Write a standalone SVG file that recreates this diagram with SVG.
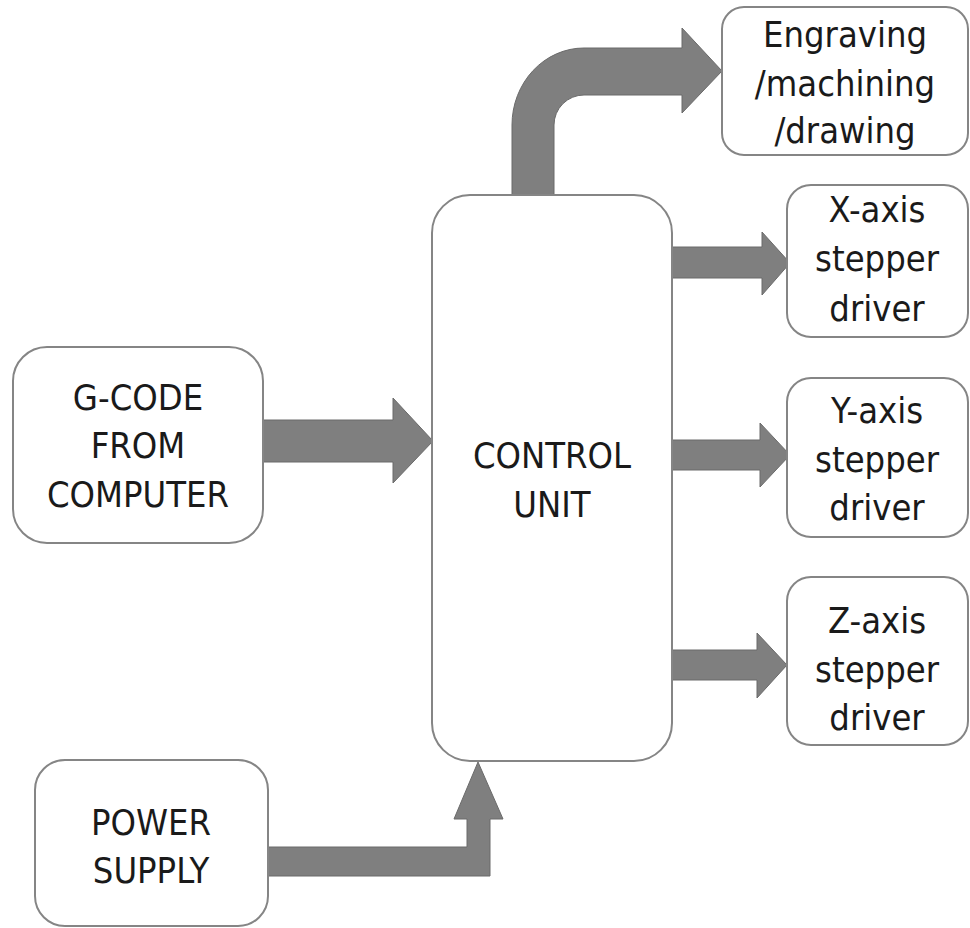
<svg xmlns="http://www.w3.org/2000/svg" width="970" height="928" viewBox="0 0 970 928">
  <style>
    .box { fill: #ffffff; stroke: #858585; stroke-width: 2; }
    .arrow { fill: #7f7f7f; stroke: #6a6a6a; stroke-width: 1; stroke-linejoin: miter; }
    text { font-family: "DejaVu Sans Condensed", "DejaVu Sans", sans-serif; font-stretch: condensed; font-size: 36px; fill: #1a1a1a; text-anchor: middle; }
  </style>
  <rect width="970" height="928" fill="#ffffff"/>

  <!-- connectors: wide block arrows -->
  <g id="connectors">
    <!-- control unit up and over to the engraving output -->
    <path class="arrow" d="M512,195 L512,125 A72,77 0 0 1 584,48 L682,48 L682,28 L722,71 L682,113 L682,95 L584,95 A30,30 0 0 0 554,125 L554,195 Z"/>
    <!-- G-code into control unit -->
    <polygon class="arrow" points="263,420 393,420 393,398 433,441 393,483 393,462 263,462"/>
    <!-- control unit to X driver -->
    <polygon class="arrow" points="672,247 762,247 762,232 790,263 762,295 762,278 672,278"/>
    <!-- control unit to Y driver -->
    <polygon class="arrow" points="672,440 760,440 760,423 790,455 760,487 760,470 672,470"/>
    <!-- control unit to Z driver -->
    <polygon class="arrow" points="670,650 757,650 757,633 787,665 757,698 757,680 670,680"/>
    <!-- power supply up into control unit -->
    <polygon class="arrow" points="268,847 467,847 467,819 454,819 478,762 503,819 490,819 490,876 268,876"/>
  </g>

  <g id="engraving">
    <rect class="box" x="722" y="7" width="246" height="148" rx="22"/>
    <text x="845" y="47">Engraving</text>
    <text x="845" y="96">/machining</text>
    <text x="845" y="143">/drawing</text>
  </g>

  <g id="control-unit">
    <rect class="box" x="432" y="195" width="240" height="566" rx="38"/>
    <text x="552" y="468">CONTROL</text>
    <text x="552" y="517">UNIT</text>
  </g>

  <g id="gcode">
    <rect class="box" x="13" y="347" width="250" height="196" rx="34"/>
    <text x="138" y="410">G-CODE</text>
    <text x="138" y="458">FROM</text>
    <text x="138" y="507">COMPUTER</text>
  </g>

  <g id="x-driver">
    <rect class="box" x="787" y="185" width="181" height="152" rx="24"/>
    <text x="877" y="222">X-axis</text>
    <text x="877" y="271">stepper</text>
    <text x="877" y="321">driver</text>
  </g>

  <g id="y-driver">
    <rect class="box" x="787" y="378" width="181" height="159" rx="24"/>
    <text x="877" y="423">Y-axis</text>
    <text x="877" y="472">stepper</text>
    <text x="877" y="520">driver</text>
  </g>

  <g id="z-driver">
    <rect class="box" x="787" y="577" width="181" height="168" rx="24"/>
    <text x="877" y="633">Z-axis</text>
    <text x="877" y="682">stepper</text>
    <text x="877" y="730">driver</text>
  </g>

  <g id="power-supply">
    <rect class="box" x="35" y="760" width="233" height="166" rx="30"/>
    <text x="151" y="835">POWER</text>
    <text x="151" y="883">SUPPLY</text>
  </g>
</svg>
